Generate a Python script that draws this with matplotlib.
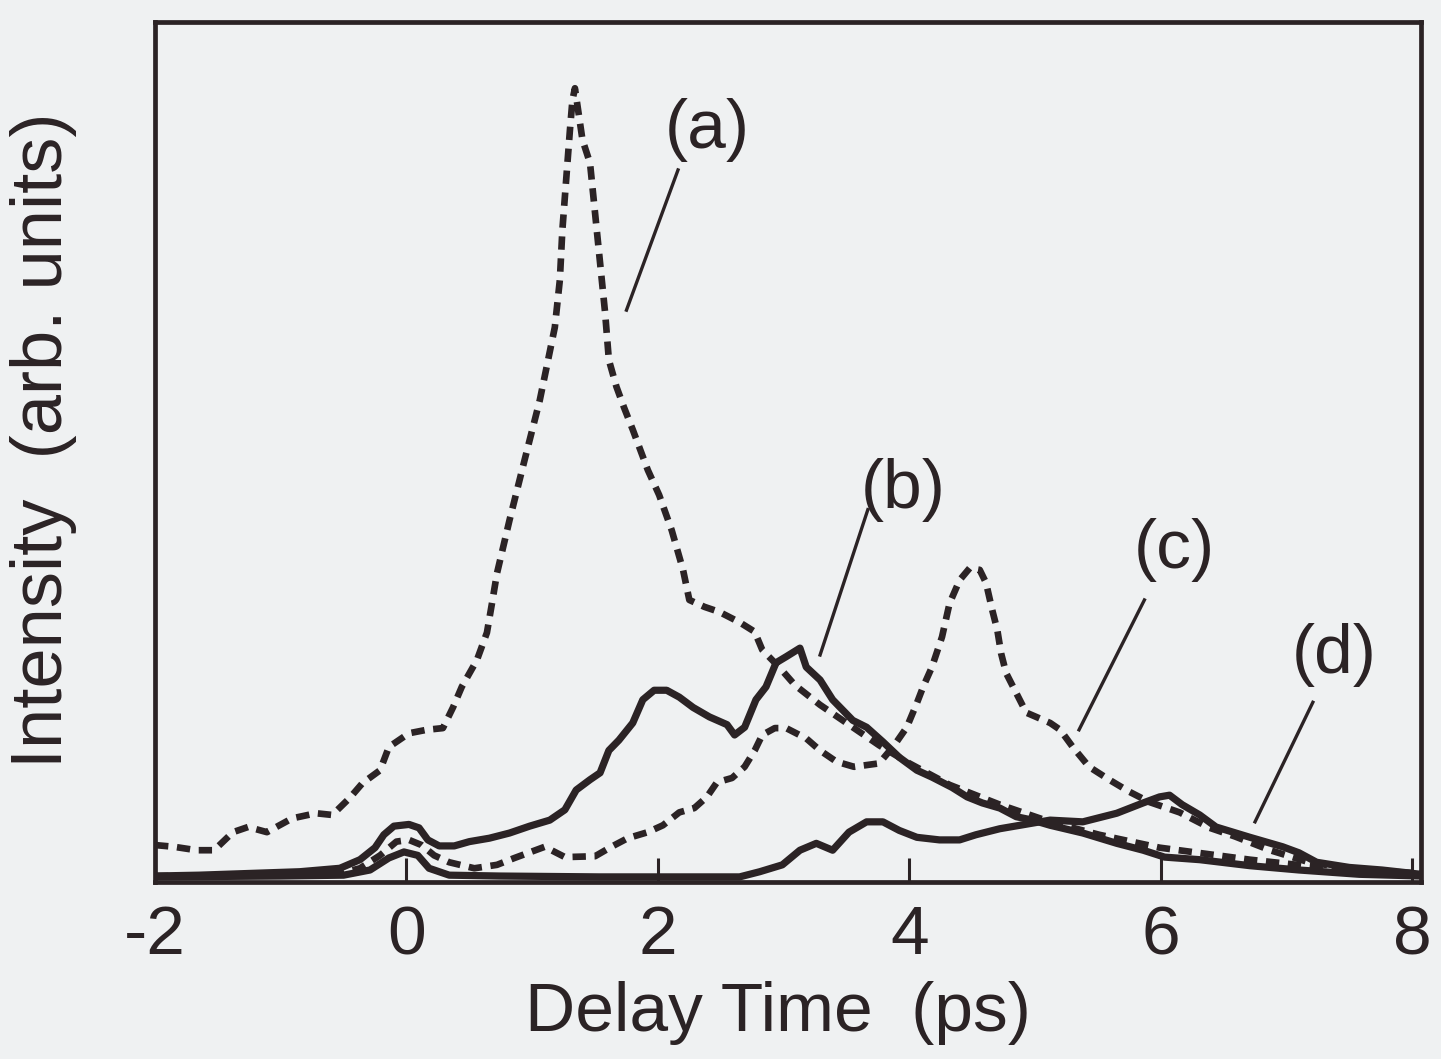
import matplotlib.pyplot as plt
import numpy as np

# delay time (ps) and intensity (arb. units, full scale = 100)
t_a = [-2.0, -1.85, -1.67, -1.53, -1.38, -1.26, -1.11, -0.91, -0.72, -0.59, -0.45, -0.35,
       -0.21, -0.14, 0.02, 0.16, 0.29, 0.37, 0.44, 0.56, 0.64, 0.68, 0.72, 0.82, 0.94, 1.06,
       1.18, 1.22, 1.24, 1.27, 1.30, 1.32, 1.34, 1.40, 1.46, 1.50, 1.54, 1.58, 1.61, 1.67,
       1.73, 1.80, 1.92, 2.01, 2.11, 2.20, 2.25, 2.37, 2.49, 2.65, 2.77, 2.83, 2.97, 3.09,
       3.29, 3.52, 3.76, 4.00, 4.32, 4.72, 5.12, 5.51, 5.99, 6.71, 7.34, 8.07]
I_a = [4.3, 4.1, 3.7, 3.7, 5.8, 6.4, 5.8, 7.4, 8.0, 7.8, 9.8, 11.5,
       13.0, 15.7, 17.3, 17.7, 17.9, 20.3, 22.7, 25.8, 29.0, 32.4, 35.9, 42.1, 49.1, 56.0,
       64.5, 70.0, 75.8, 81.6, 87.4, 90.9, 92.3, 86.3, 83.6, 77.8, 72.0, 66.2, 60.7, 57.6,
       55.2, 52.6, 47.9, 45.0, 40.9, 36.3, 32.8, 32.0, 31.4, 30.2, 29.1, 27.0, 24.9, 22.9,
       20.6, 18.3, 15.9, 13.8, 11.3, 9.0, 7.0, 5.5, 4.0, 2.6, 1.6, 1.0]

t_b = [-2.0, -1.65, -1.25, -0.85, -0.53, -0.37, -0.25, -0.18, -0.10, 0.02, 0.10, 0.17,
       0.26, 0.38, 0.50, 0.66, 0.82, 0.98, 1.14, 1.26, 1.35, 1.46, 1.54, 1.61, 1.69, 1.80,
       1.88, 1.97, 2.07, 2.17, 2.28, 2.41, 2.55, 2.61, 2.69, 2.78, 2.86, 2.94, 3.02, 3.13,
       3.18, 3.29, 3.39, 3.55, 3.66, 3.79, 3.92, 4.06, 4.18, 4.34, 4.46, 4.58, 4.72, 4.85,
       4.98, 5.12, 5.38, 5.65, 5.86, 6.03, 6.31, 6.71, 7.10, 7.58, 8.07]
I_b = [0.7, 0.8, 1.0, 1.2, 1.6, 2.6, 4.0, 5.5, 6.5, 6.7, 6.3, 4.9,
       4.2, 4.2, 4.7, 5.1, 5.7, 6.5, 7.2, 8.4, 10.7, 11.9, 12.7, 15.3, 16.5, 18.5,
       21.2, 22.3, 22.3, 21.5, 20.3, 19.2, 18.3, 17.1, 18.0, 21.2, 22.7, 25.5, 26.2, 27.2,
       25.0, 23.5, 21.2, 18.8, 18.0, 16.3, 14.5, 13.0, 12.2, 11.0, 9.9, 9.2, 8.6, 7.6,
       7.2, 6.6, 5.7, 4.5, 3.7, 2.9, 2.6, 1.9, 1.4, 0.9, 0.7]

t_c = [-2.0, -1.0, -0.5, -0.37, -0.21, -0.08, 0.02, 0.12, 0.22, 0.34, 0.54, 0.72, 0.86,
       1.10, 1.26, 1.50, 1.63, 1.76, 1.92, 2.04, 2.17, 2.29, 2.39, 2.47, 2.59, 2.69, 2.77,
       2.83, 2.93, 3.02, 3.18, 3.29, 3.42, 3.56, 3.76, 3.88, 3.98, 4.06, 4.11, 4.18, 4.26,
       4.32, 4.40, 4.48, 4.56, 4.61, 4.66, 4.70, 4.73, 4.77, 4.85, 4.93, 5.12, 5.20, 5.30,
       5.43, 5.59, 5.75, 5.91, 6.15, 6.39, 6.59, 6.87, 7.18, 7.58, 8.07]
I_c = [0.7, 0.8, 1.1, 1.6, 3.1, 4.7, 4.9, 4.3, 3.1, 2.3, 1.6, 2.0, 2.8,
       4.1, 2.9, 3.0, 4.1, 5.1, 5.8, 6.6, 8.1, 8.6, 9.9, 11.6, 12.1, 13.4, 15.3,
       17.1, 17.9, 17.9, 16.7, 15.3, 14.0, 13.4, 13.8, 15.9, 18.0, 20.8, 22.7, 25.0, 28.5,
       32.4, 35.1, 36.5, 36.3, 34.8, 31.6, 29.3, 26.6, 24.3, 22.0, 19.7, 18.5, 17.7, 15.7,
       13.4, 11.9, 10.5, 9.3, 8.1, 6.3, 5.3, 3.7, 2.3, 1.4, 0.8]

t_d = [-2.0, -1.0, -0.5, -0.29, -0.14, -0.02, 0.09, 0.18, 0.34, 0.74, 1.53, 2.32, 2.65,
       2.81, 2.99, 3.13, 3.26, 3.39, 3.52, 3.66, 3.79, 3.92, 4.06, 4.24, 4.40, 4.53, 4.72,
       4.88, 5.12, 5.38, 5.65, 5.86, 5.99, 6.07, 6.17, 6.31, 6.44, 6.71, 6.97, 7.10, 7.24,
       7.50, 7.76, 8.07]
I_d = [0.6, 0.7, 0.8, 1.4, 2.8, 3.5, 3.1, 1.6, 0.8, 0.7, 0.6, 0.6, 0.6,
       1.2, 2.0, 3.7, 4.5, 3.7, 5.8, 7.0, 7.0, 6.0, 5.2, 4.9, 4.9, 5.5, 6.2,
       6.6, 7.2, 7.0, 8.0, 9.2, 9.9, 10.1, 9.0, 7.8, 6.4, 5.2, 4.1, 3.4, 2.3,
       1.7, 1.4, 0.9]

# curve labels: text position, pointer line start and end
labels = ["(a)", "(b)", "(c)", "(d)"]
label_xy = [(2.39, 87.4), (3.95, 45.6), (6.11, 38.6), (7.38, 26.4)]
pointer_from = [(2.16, 82.8), (3.67, 43.3), (5.87, 32.8), (7.21, 20.9)]
pointer_to = [(1.75, 66.5), (3.29, 26.4), (5.35, 17.7), (6.75, 7.0)]

ink = "#2b2325"
bg = "#eff1f2"
plt.rcParams["font.family"] = ["Liberation Sans", "DejaVu Sans"]

fig = plt.figure(figsize=(14.41, 10.59), dpi=100, facecolor=bg)
ax = fig.add_axes([0.1076, 0.1671, 0.8785, 0.8121])
ax.set_facecolor(bg)

dash = (0, (2.0, 1.3))
ax.plot(t_a, I_a, color=ink, lw=4.8, ls=dash)
ax.plot(t_c, I_c, color=ink, lw=4.8, ls=dash)
ax.plot(t_b, I_b, color=ink, lw=5.2)
ax.plot(t_d, I_d, color=ink, lw=5.2)

for lab, (tx, ty), p0, p1 in zip(labels, label_xy, pointer_from, pointer_to):
    ax.text(tx, ty, lab, fontsize=50, color=ink, ha="center", va="center")
    ax.plot([p0[0], p1[0]], [p0[1], p1[1]], color=ink, lw=2.4)

ax.set_xlim(-2, 8.07)
ax.set_ylim(0, 100)
ax.set_xticks([-2, 0, 2, 4, 6, 8])
ax.set_xticklabels(["-2", "0", "2", "4", "6", "8"])
ax.set_yticks([])
ax.tick_params(axis="x", direction="in", length=17, width=2.2, color=ink,
               labelsize=50, labelcolor=ink, pad=16)
for s in ax.spines.values():
    s.set_linewidth(3.4)
    s.set_color(ink)

ax.set_xlabel("Delay Time  (ps)", fontsize=50, color=ink)
ax.xaxis.set_label_coords(0.492, -0.152)
ax.xaxis.label.set_va("center")
ax.set_ylabel("Intensity  (arb. units)", fontsize=52, color=ink)
ax.yaxis.set_label_coords(-0.0885, 0.514)
ax.yaxis.label.set_va("center")

fig.savefig("out.png", dpi=100, facecolor=bg)
